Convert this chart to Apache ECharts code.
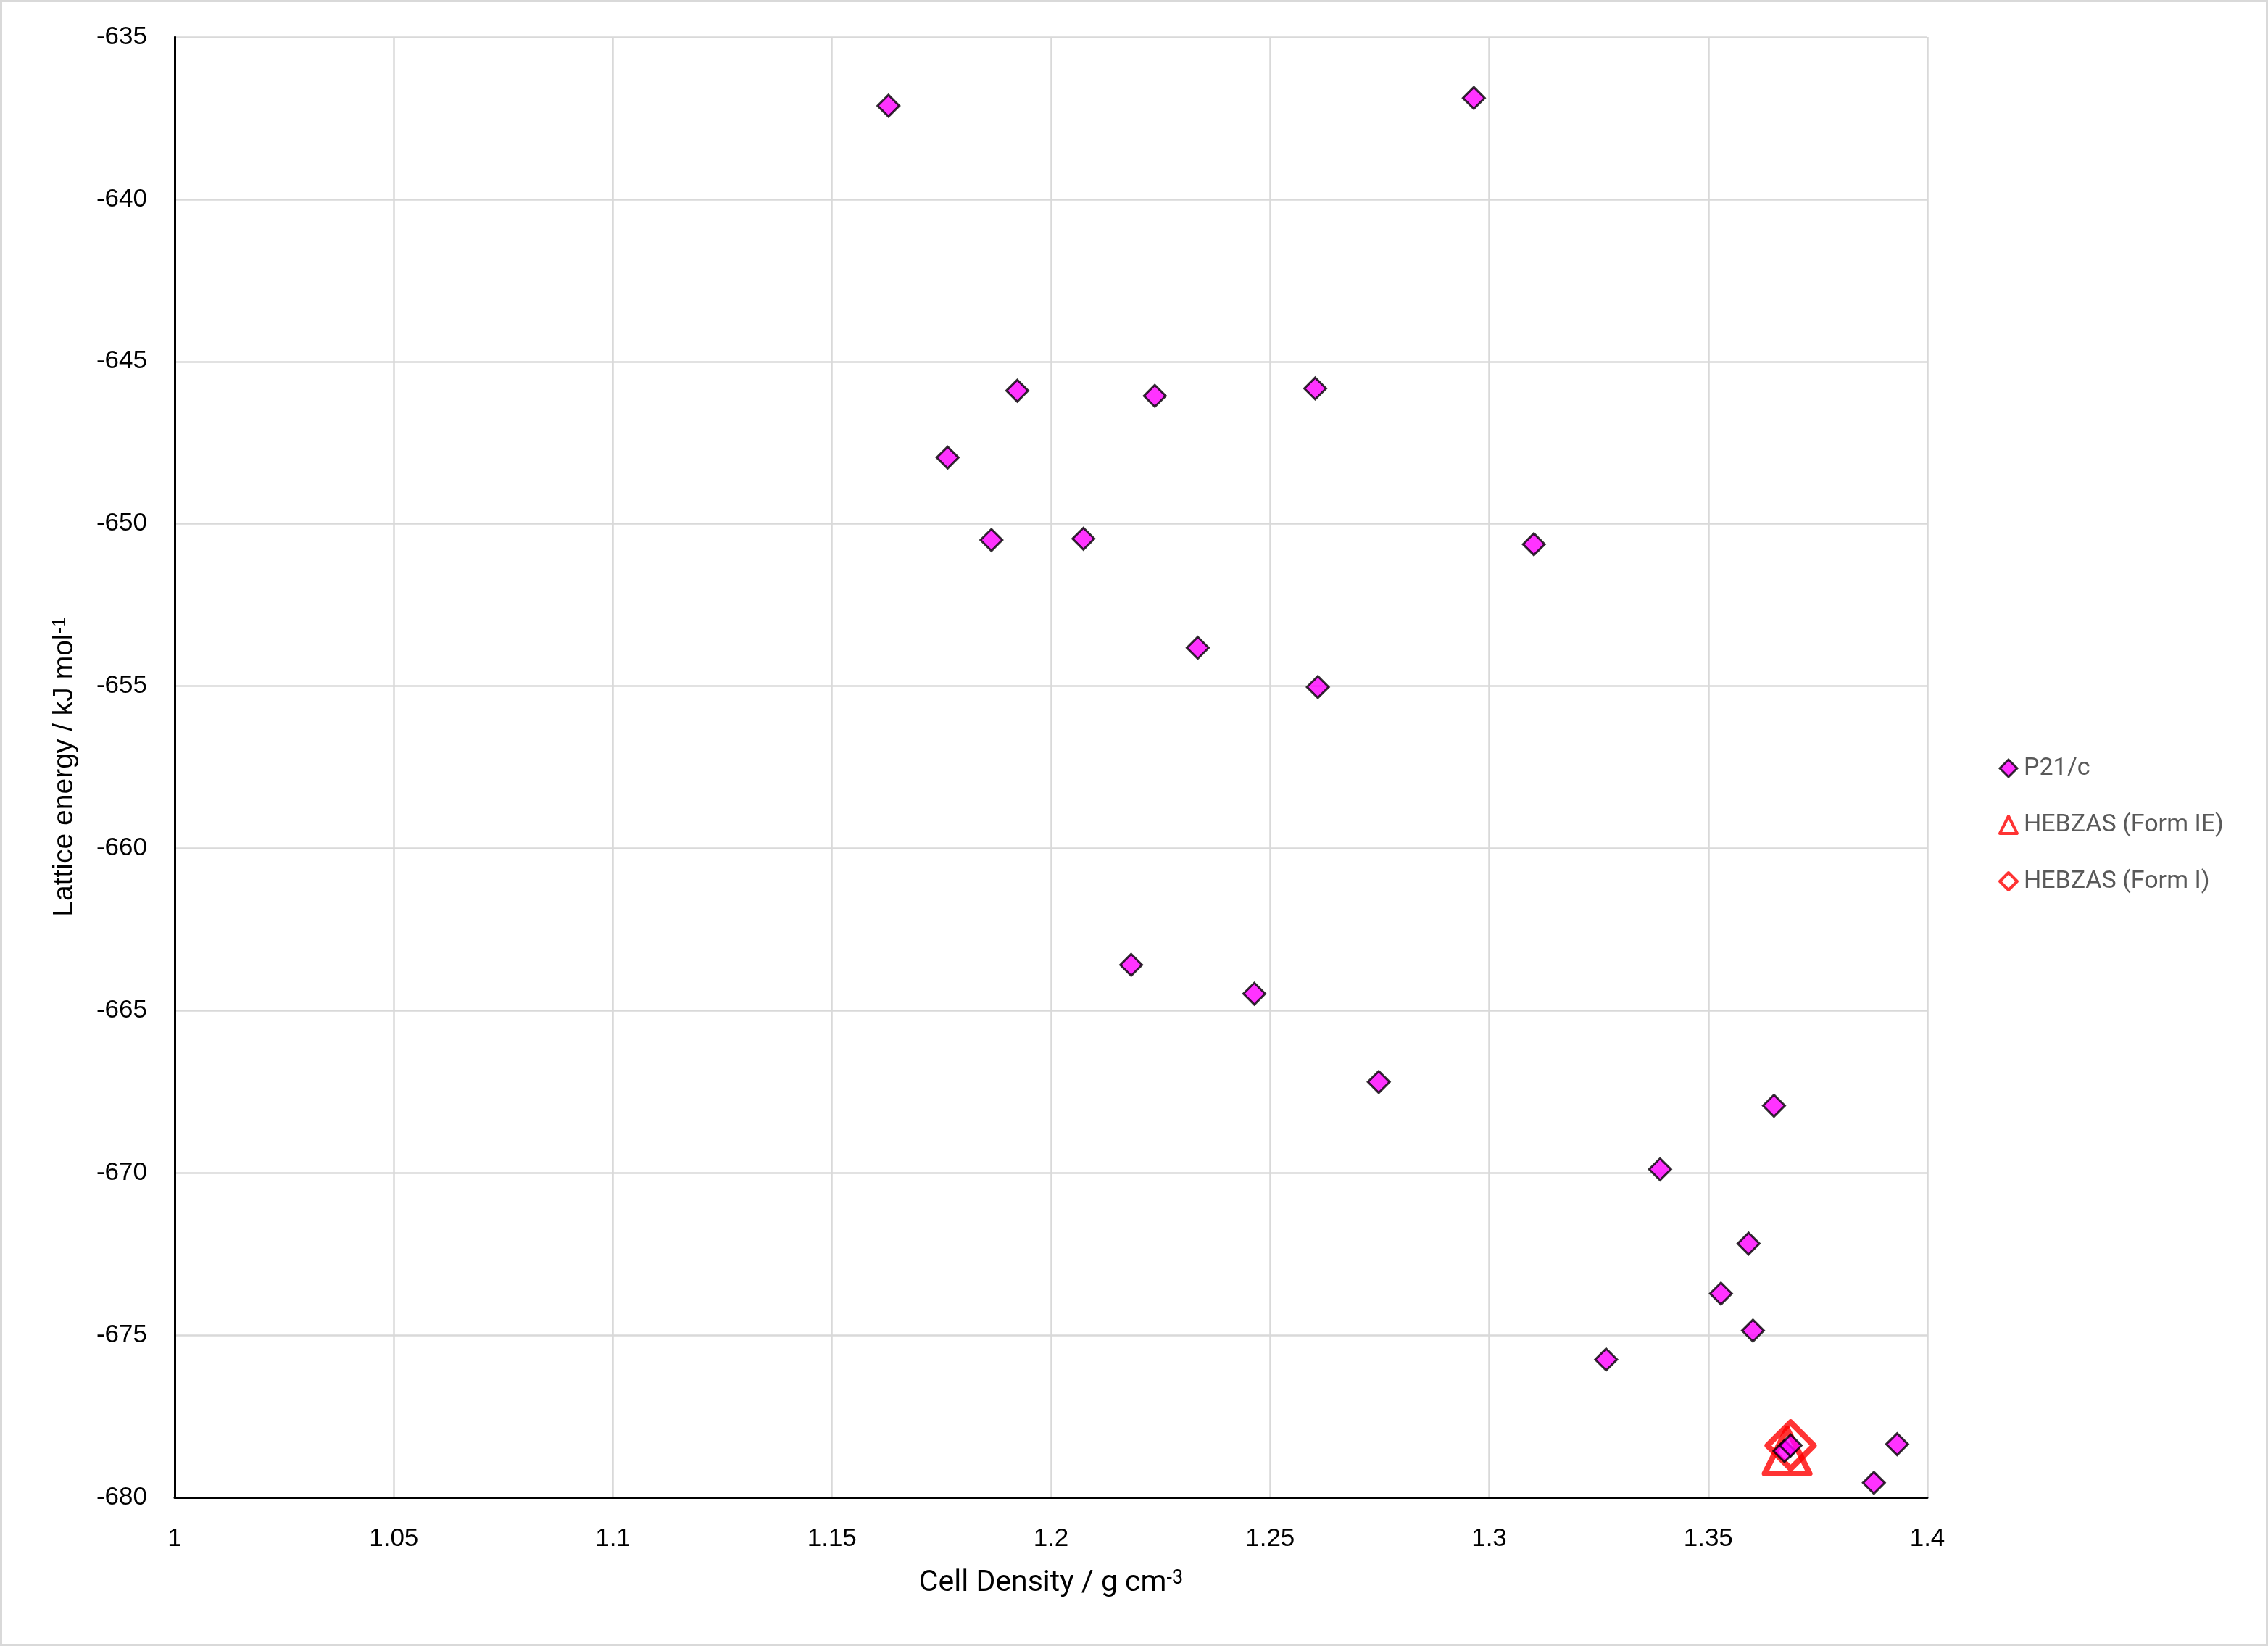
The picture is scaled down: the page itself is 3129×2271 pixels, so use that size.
<!DOCTYPE html>
<html>
<head>
<meta charset="utf-8">
<script src="https://cdn.jsdelivr.net/npm/echarts@6/dist/echarts.min.js"></script>
<style>
  html, body { margin: 0; padding: 0; background: #fff; }
  #chart { width: 3129px; height: 2271px; }
</style>
</head>
<body>
<div id="chart"></div>
<script>
// P21/c structures : cell density (g cm-3) vs lattice energy (kJ mol-1)
const p21cDensity = [1.1629, 1.2965, 1.1923, 1.2237, 1.2603, 1.1764, 1.1864, 1.2074, 1.3102, 1.2335, 1.2609, 1.2183,
                     1.2464, 1.2748, 1.3650, 1.3390, 1.3592, 1.3529, 1.3602, 1.3267, 1.3674, 1.3688, 1.3878, 1.3931]
const p21cEnergy  = [-637.12, -636.88, -645.90, -646.06, -645.83, -647.96, -650.50, -650.46, -650.63, -653.82, -655.03, -663.59,
                     -664.48, -667.20, -667.93, -669.89, -672.18, -673.72, -674.86, -675.75, -678.57, -678.40, -679.55, -678.36]

// experimental forms
const formIEDensity = [1.3680]
const formIEEnergy  = [-678.57]
const formIDensity  = [1.3688]
const formIEnergy   = [-678.40]

// axes
const xMin = 1, xMax = 1.4, xStep = 0.05
const yMin = -680, yMax = -635, yStep = 5

const zip = ( xs, ys ) => xs.map(( x, i ) => [ x, ys[ i ] ])

const chart = echarts.init( document.getElementById( 'chart' ) )

const tickFont = { fontFamily : 'Liberation Sans', fontSize : 35, color : '#000000' }

chart.setOption({
    animation : false,
    backgroundColor : '#ffffff',
    grid : { left : 241, top : 51, right : 470, bottom : 205, containLabel : false },
    xAxis : {
        type : 'value',
        min : xMin, max : xMax, interval : xStep,
        axisLine : { show : true, onZero : false, lineStyle : { color : '#000000', width : 3 } },
        axisTick : { show : false },
        splitLine : { show : true, lineStyle : { color : '#d9d9d9', width : 2.5 } },
        axisLabel : {
            ...tickFont,
            margin : 40,
            showMinLabel : true, showMaxLabel : true,
            formatter : v => String( parseFloat( v.toFixed( 2 ) ) )
        },
    },
    yAxis : {
        type : 'value',
        min : yMin, max : yMax, interval : yStep,
        axisLine : { show : true, onZero : false, lineStyle : { color : '#000000', width : 3 } },
        axisTick : { show : false },
        splitLine : { show : true, lineStyle : { color : '#d9d9d9', width : 2.5 } },
        axisLabel : { ...tickFont, margin : 38, showMinLabel : true, showMaxLabel : true },
    },
    legend : {
        orient : 'vertical',
        left : 2752,
        top : 1038,
        itemWidth : 24,
        itemHeight : 24,
        itemGap : 44,
        selectedMode : false,
        textStyle : { fontFamily : 'Roboto', fontSize : 34, color : '#595959', padding : [ 0, 0, 0, 4 ] },
        data : [
            { name : 'P21/c', itemStyle : { borderWidth : 3 } },
            { name : 'HEBZAS (Form IE)', itemStyle : { borderWidth : 4 } },
            { name : 'HEBZAS (Form I)', itemStyle : { borderWidth : 4 } },
        ],
    },
    graphic : [
        {
            type : 'rect',
            silent : true,
            shape : { x : 1.5, y : 1.5, width : 3126, height : 2268 },
            style : { fill : 'none', stroke : '#d9d9d9', lineWidth : 3 },
        },
        {
            type : 'text',
            silent : true,
            x : 1450, y : 2185,
            style : {
                text : '{a|Cell Density / g cm}{s|-3}',
                align : 'center', verticalAlign : 'middle',
                rich : {
                    a : { fontFamily : 'Roboto', fontSize : 41, color : '#000000' },
                    s : { fontFamily : 'Roboto', fontSize : 27, color : '#000000', verticalAlign : 'top' },
                },
            },
        },
        {
            type : 'text',
            silent : true,
            x : 89, y : 1058,
            rotation : Math.PI / 2,
            style : {
                text : '{a|Lattice energy / kJ mol}{s|-1}',
                align : 'center', verticalAlign : 'middle',
                rich : {
                    a : { fontFamily : 'Liberation Sans', fontSize : 39, color : '#000000' },
                    s : { fontFamily : 'Liberation Sans', fontSize : 26, color : '#000000', verticalAlign : 'top' },
                },
            },
        },
    ],
    series : [
        {
            name : 'HEBZAS (Form IE)',
            type : 'scatter',
            data : zip( formIEDensity, formIEEnergy ),
            symbol : 'triangle',
            symbolSize : [ 62, 62 ],
            z : 2,
            itemStyle : { color : 'rgba(255,255,255,0)', borderColor : '#ff0000', borderWidth : 8, borderJoin : 'round' },
        },
        {
            name : 'HEBZAS (Form I)',
            type : 'scatter',
            data : zip( formIDensity, formIEnergy ),
            symbol : 'diamond',
            symbolSize : [ 64, 64 ],
            z : 2,
            itemStyle : { color : 'rgba(255,255,255,0)', borderColor : '#ff0000', borderWidth : 8, borderJoin : 'round' },
        },
        {
            name : 'P21/c',
            type : 'scatter',
            data : zip( p21cDensity, p21cEnergy ),
            symbol : 'diamond',
            symbolSize : 30,
            z : 3,
            itemStyle : { color : '#ff00ff', borderColor : '#000000', borderWidth : 3 },
        },
    ],
})
</script>
</body>
</html>
